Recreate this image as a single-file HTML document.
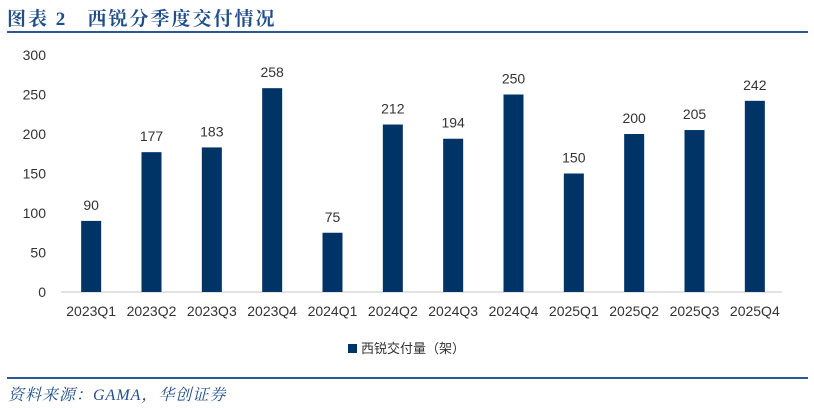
<!DOCTYPE html>
<html><head><meta charset="utf-8"><style>
body{margin:0;width:814px;height:408px;background:#fff;overflow:hidden;font-family:"Liberation Sans","Noto Sans CJK SC",sans-serif}
.t{position:absolute;left:7px;top:4px;font-family:"Liberation Serif","Noto Serif CJK SC",serif;font-weight:bold;font-size:19px;color:#1f4e8c;letter-spacing:2px;white-space:pre}
.l1{position:absolute;left:7px;top:31px;width:801px;height:2px;background:#2b5797}
.l2{position:absolute;left:7px;top:377px;width:801px;height:2px;background:#2b5797}
.s{position:absolute;left:8px;top:382px;font-family:"Liberation Serif","Noto Serif CJK SC",serif;font-style:italic;font-size:16px;color:#1f4e8c;letter-spacing:1px}
</style></head><body>
<div class="t">图表 2   西锐分季度交付情况</div>
<div class="l1"></div>
<svg id="c" width="814" height="408" style="position:absolute;left:0;top:0"></svg>
<div class="l2"></div>
<div class="s">资料来源：GAMA，华创证券</div>
<script>
const categories=["2023Q1","2023Q2","2023Q3","2023Q4","2024Q1","2024Q2","2024Q3","2024Q4","2025Q1","2025Q2","2025Q3","2025Q4"];
const values=[90,177,183,258,75,212,194,250,150,200,205,242];
const yTicks=[0,50,100,150,200,250,300];
const svg=document.getElementById('c');const NS="http://www.w3.org/2000/svg";
const x0=61,x1=785,y0=292,y1=55,ymax=300;
const step=(x1-x0)/categories.length;
const xc=i=>x0+step*(i+0.5);
const y=v=>y0-(v/ymax)*(y0-y1);
function mk(t,a,txt){const e=document.createElementNS(NS,t);for(const k in a)e.setAttribute(k,a[k]);if(txt!=null)e.textContent=txt;svg.appendChild(e);return e;}
yTicks.forEach(v=>{const e=mk('text',{x:46,y:y(v)+5,'text-anchor':'end','font-size':'14','fill':'#333'},v);

});
const ax=mk('line',{x1:x0,x2:x1-3,y1:y0,y2:y0,stroke:'#d9d9d9','stroke-width':'1.5'});


values.forEach((v,i)=>{
const b=mk('rect',{x:xc(i)-10,y:y(v),width:20,height:y0-y(v),fill:'#003366'});


const l=mk('text',{x:xc(i),y:y(v)-11,'text-anchor':'middle','font-size':'14','fill':'#333'},v);


const c=mk('text',{x:xc(i),y:y0+24,'text-anchor':'middle','font-size':'14','fill':'#333'},categories[i]);


});
const lg=mk('rect',{x:348,y:344,width:9,height:9,fill:'#003366'});


const lt=mk('text',{x:361,y:353,'font-size':'13','fill':'#333'},'西锐交付量（架）');


</script>
</body></html>
